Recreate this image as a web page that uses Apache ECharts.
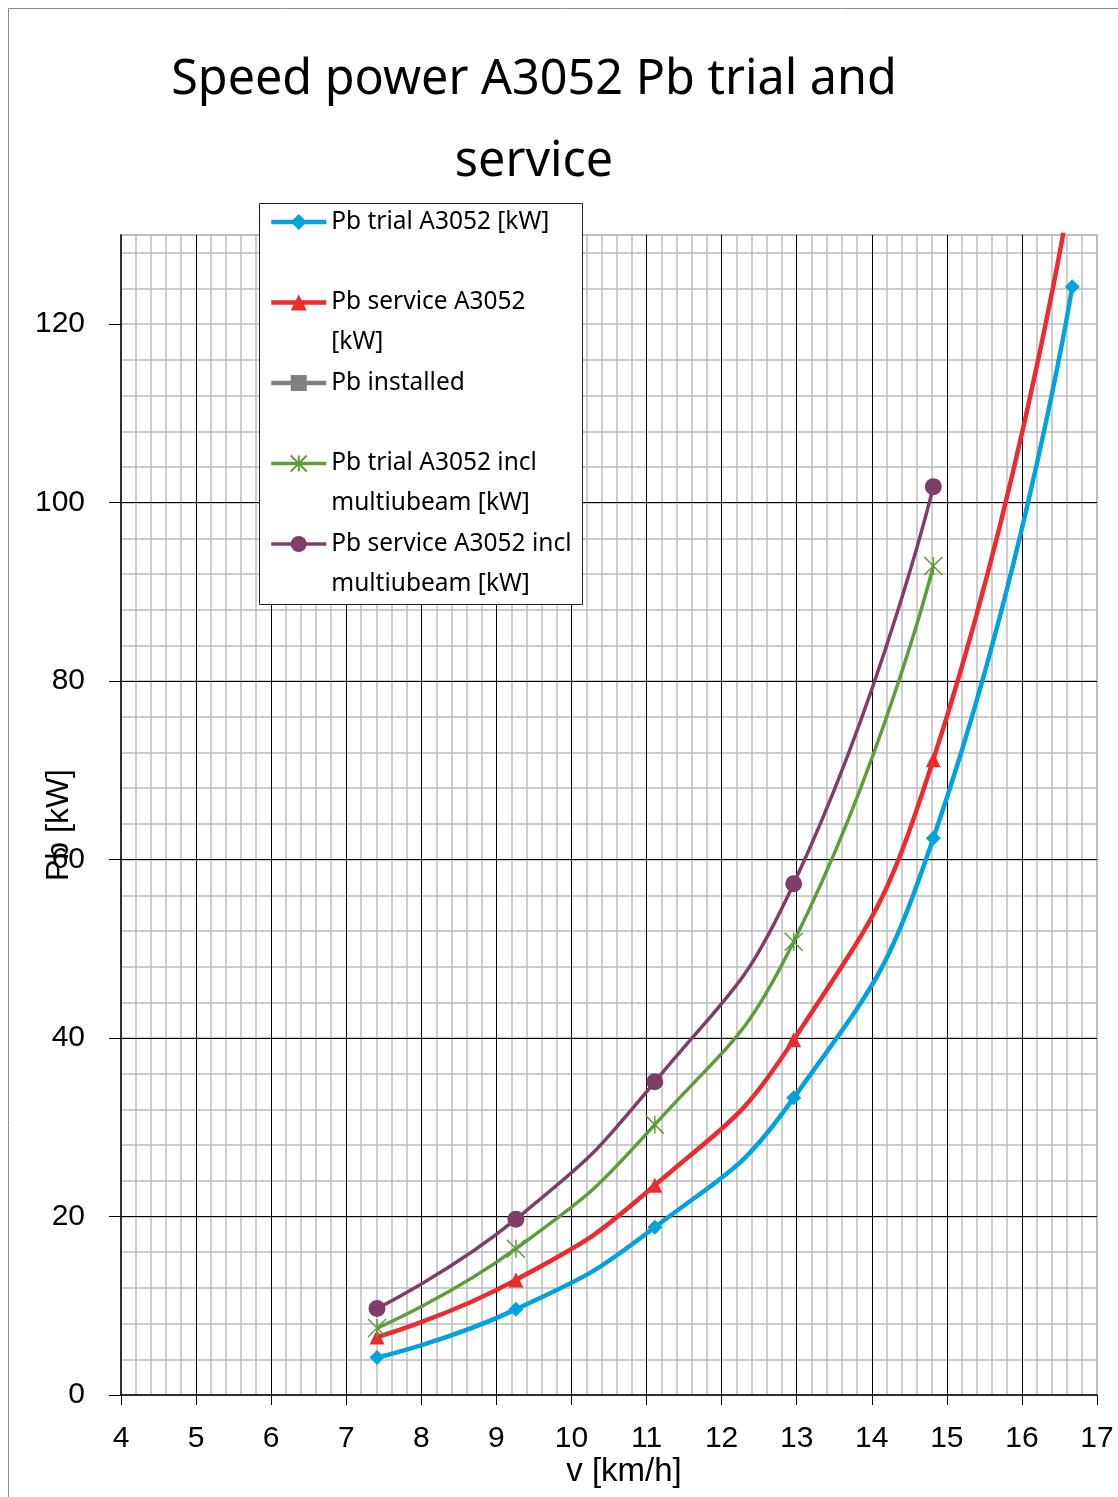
<!DOCTYPE html>
<html>
<head>
<meta charset="utf-8">
<script src="https://cdn.jsdelivr.net/npm/echarts@6/dist/echarts.min.js"></script>
<style>
html,body{margin:0;padding:0;background:#fff;}
#chart{width:1118px;height:1497px;}
</style>
</head>
<body>
<div id="chart"></div>
<script>
// Speed in km/h (4..9 knots)
const speeds = [7.41, 9.26, 11.11, 12.96, 14.82, 16.67];
const pbTrial = [4.2, 9.6, 18.8, 33.3, 62.4, 124.2];
const pbService = [6.5, 12.9, 23.5, 39.8, 71.2, 136];
const pbInstalled = [];
const pbTrialMulti = [7.5, 16.4, 30.3, 50.8, 92.9];
const pbServiceMulti = [9.7, 19.7, 35.1, 57.3, 101.8];
const yTicks = [0, 20, 40, 60, 80, 100, 120];

const seriesNames = [
  'Pb trial A3052 [kW]',
  'Pb service A3052 [kW]',
  'Pb installed',
  'Pb trial A3052 incl multiubeam [kW]',
  'Pb service A3052 incl multiubeam [kW]'
];
const legendText = {
  'Pb trial A3052 [kW]': ' \nPb trial A3052 [kW]\n ',
  'Pb service A3052 [kW]': ' \nPb service A3052\n[kW]',
  'Pb installed': ' \nPb installed\n ',
  'Pb trial A3052 incl multiubeam [kW]': ' \nPb trial A3052 incl\nmultiubeam [kW]',
  'Pb service A3052 incl multiubeam [kW]': ' \nPb service A3052 incl\nmultiubeam [kW]'
};
const legendLineWidth = [4.5, 4.5, 4.5, 3.5, 3.5];

function pairs(xs, ys) { return ys.map((y, i) => [xs[i], y]); }

const titleFont = '"Noto Sans", sans-serif';
const axisFont = '"Liberation Sans", Arial, sans-serif';

const chart = echarts.init(document.getElementById('chart'), null, {renderer: 'canvas'});
chart.setOption({
  animation: false,
  backgroundColor: '#fff',
  title: {
    text: 'Speed power A3052 Pb trial and\nservice',
    left: 529,
    top: 34,
    textAlign: 'center',
    textStyle: {fontFamily: titleFont, fontSize: 48.5, fontWeight: 'normal', color: '#000', lineHeight: 82}
  },
  graphic: [
    {type: 'rect', silent: true, z: 0, shape: {x: 8.5, y: 8.5, width: 1130, height: 1510}, style: {fill: 'none', stroke: '#8a8a8a', lineWidth: 1}},
    {type: 'rect', silent: true, z: 50, shape: {x: 259.5, y: 203.5, width: 323, height: 401}, style: {fill: '#fff', stroke: '#222', lineWidth: 1}}
  ],
  legend: {
    orient: 'vertical',
    left: 269,
    top: 162,
    z: 60,
    padding: 0,
    itemWidth: 55,
    itemHeight: 20,
    itemGap: -39.5,
    data: seriesNames.map((n, i) => ({name: n, lineStyle: {width: legendLineWidth[i]}})),
    formatter: n => legendText[n],
    textStyle: {fontFamily: titleFont, fontSize: 24.5, color: '#000', lineHeight: 40}
  },
  grid: {left: 121, right: 21, top: 235, bottom: 102, show: true, borderColor: '#bdbdbd', borderWidth: 2, backgroundColor: 'transparent', containLabel: false, outerBoundsMode: 'none'},
  xAxis: {
    type: 'value', min: 4, max: 17, interval: 1,
    name: 'v [km/h]', nameLocation: 'middle', nameGap: 60, nameMoveOverlap: false,
    nameTextStyle: {fontFamily: axisFont, fontSize: 33, color: '#000', padding: [0, 0, 0, 30]},
    axisLine: {show: true, onZero: false, lineStyle: {color: '#000', width: 1.5}},
    axisTick: {show: true, length: 10, lineStyle: {color: '#000'}},
    axisLabel: {fontFamily: axisFont, fontSize: 30, color: '#000', margin: 29},
    splitLine: {show: true, showMinLine: false, showMaxLine: false, lineStyle: {color: '#000', width: 1}},
    minorTick: {show: false, splitNumber: 5},
    minorSplitLine: {show: true, lineStyle: {color: '#bdbdbd', width: 1.5}}
  },
  yAxis: [
    {
      type: 'value', min: 0, max: 130, interval: 20, z: 2,
      name: 'Pb [kW]', nameLocation: 'middle', nameGap: 46, nameRotate: 90, nameMoveOverlap: false,
      nameTextStyle: {fontFamily: axisFont, fontSize: 32, color: '#000', padding: [0, 20, 0, 0]},
      axisLine: {show: true, onZero: false, lineStyle: {color: '#000', width: 1.5}},
      axisTick: {show: true, length: 12, lineStyle: {color: '#000'}, customValues: yTicks},
      axisLabel: {fontFamily: axisFont, fontSize: 30, color: '#000', margin: 36, customValues: yTicks},
      splitLine: {show: true, showMinLine: false, showMaxLine: false, lineStyle: {color: '#000', width: 1}}
    },
    {
      type: 'value', min: 0, max: 130, interval: 4, z: 0, position: 'left',
      axisLine: {show: false}, axisTick: {show: false}, axisLabel: {show: false},
      splitLine: {show: true, showMinLine: false, showMaxLine: false, lineStyle: {color: '#bdbdbd', width: 1.5}}
    }
  ],
  series: [
    {
      name: seriesNames[0], type: 'line', smooth: 0.5, z: 5,
      data: pairs(speeds, pbTrial),
      symbol: 'diamond', symbolSize: 15,
      color: '#00a3de',
      lineStyle: {width: 4.5, color: '#00a3de'},
      itemStyle: {color: '#00a3de'}
    },
    {
      name: seriesNames[1], type: 'line', smooth: 0.5, z: 5,
      data: pairs(speeds, pbService),
      symbol: 'triangle', symbolSize: 15,
      color: '#ee2a2d',
      lineStyle: {width: 4.5, color: '#ee2a2d'},
      itemStyle: {color: '#ee2a2d'}
    },
    {
      name: seriesNames[2], type: 'line', smooth: 0.5, z: 5,
      data: pbInstalled,
      symbol: 'rect', symbolSize: 12,
      color: '#808080',
      lineStyle: {width: 4.5, color: '#808080'},
      itemStyle: {color: '#808080'}
    },
    {
      name: seriesNames[3], type: 'line', smooth: 0.5, z: 5,
      data: pairs(speeds, pbTrialMulti),
      symbol: 'path://M0,0L10,10M10,0L0,10M5,0L5,10', symbolSize: 18,
      color: '#5e9e3a',
      lineStyle: {width: 3.5, color: '#5e9e3a'},
      itemStyle: {color: 'none', borderColor: '#5e9e3a', borderWidth: 1.5}
    },
    {
      name: seriesNames[4], type: 'line', smooth: 0.5, z: 5,
      data: pairs(speeds, pbServiceMulti),
      symbol: 'circle', symbolSize: 17,
      color: '#7e3e67',
      lineStyle: {width: 3.5, color: '#7e3e67'},
      itemStyle: {color: '#7e3e67'}
    }
  ]
});
</script>
</body>
</html>
